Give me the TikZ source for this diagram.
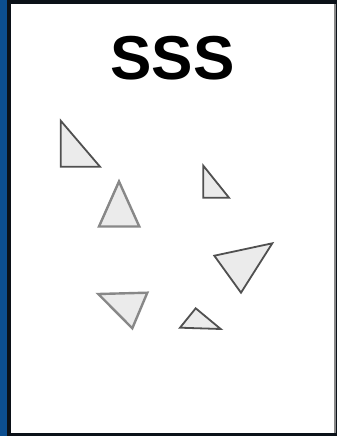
\documentclass[tikz,border=0pt]{standalone}
\usepackage{fontspec}
\setmainfont{Liberation Sans}
\definecolor{framedark}{HTML}{0B1118}
\definecolor{frameblue}{HTML}{0C4F91}
\definecolor{edgegray}{HTML}{505050}
\definecolor{softgray}{HTML}{888888}
\definecolor{facegray}{HTML}{EBEBEB}

\begin{document}
\begin{tikzpicture}[
                tri/.style={
                    draw=edgegray,
                    fill=facegray,
                    line width=1.8pt
                },
                trisoft/.style={
                    draw=softgray,
                    fill=facegray,
                    line width=2.4pt
                },
                x=1pt,
                y=-1pt
            ]

        \newcommand{\triangleat}[4]{%
            \draw[#1] #2 -- #3 -- #4 -- cycle;
        }

        \useasboundingbox (0,0) rectangle (337,436);

        % Card frame
        \fill[framedark] (0,0) rectangle (337,436);
        \fill[frameblue] (0,0) rectangle (7,436);
        \fill[white] (11,4) rectangle (334,433);
        \fill[softgray] (334,4) rectangle (335.5,433);

        % Title
        \node[font=\bfseries\fontsize{62}{62}\selectfont, inner sep=0pt]
            (title) at (172.5,58) {SSS};

        % Scattered triangles
        \triangleat{tri}{(60.7,120.7)}{(60.7,166.7)}{(100,166.7)}
        \triangleat{trisoft}{(119,181.5)}{(99,226.5)}{(139.3,226.5)}
        \triangleat{tri}{(203.3,165.7)}{(203.3,197.7)}{(229,197.7)}
        \triangleat{tri}{(214.3,255.7)}{(272.3,243.3)}{(241,292.7)}
        \triangleat{trisoft}{(98.3,294)}{(147.3,292.7)}{(132.3,328.3)}
        \triangleat{tri}{(180,327.7)}{(195.7,308.3)}{(220.7,329)}

\end{tikzpicture}
\end{document}
